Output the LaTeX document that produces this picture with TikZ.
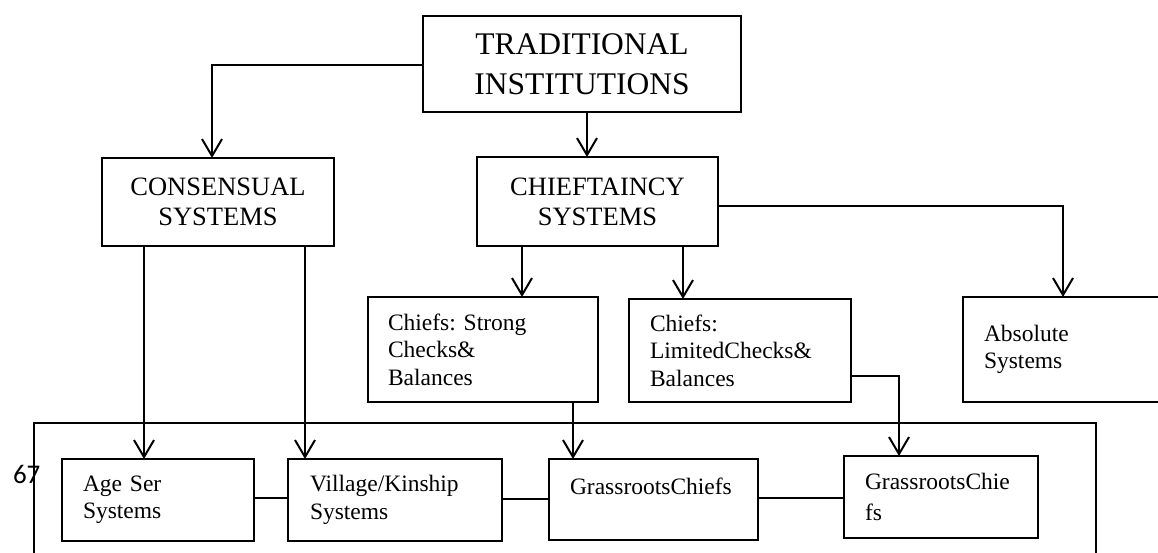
\documentclass[tikz,border=0pt]{standalone}
\usepackage{fontspec}
\setmainfont{Liberation Serif}
\newfontfamily\numfont{Carlito}
\usetikzlibrary{arrows.meta}
\frenchspacing
\begin{document}
\begin{tikzpicture}[x=1pt,y=-1pt,line width=2pt,
  box/.style={draw,rectangle,inner sep=0pt,outer sep=0pt,line width=2pt},
  capA/.style={box,align=center,font=\fontsize{31.5}{40}\selectfont},
  capB/.style={box,align=center,font=\fontsize{26.5}{30}\selectfont},
  lbox/.style={box,align=left,inner ysep=0pt,font=\fontsize{23.5}{27.5}\selectfont},
  arr/.style={-{Straight Barb[length=17pt,width=20pt]}},
  frame/.style={line width=1.5pt}]
\clip (0,0) rectangle (1158,553);
\useasboundingbox (0,0) rectangle (1158,553);

\node[capA,minimum width=318pt,minimum height=96pt,anchor=north west] (ti) at (423,16) {TRADITIONAL\\INSTITUTIONS};
\node[capB,minimum width=232pt,minimum height=88pt,anchor=north west] (cons) at (102,158) {CONSENSUAL\\SYSTEMS};
\node[capB,minimum width=241pt,minimum height=89pt,anchor=north west] (chief) at (477,157) {CHIEFTAINCY\\SYSTEMS};

\node[lbox,text width=190pt,inner xsep=20pt,minimum height=105pt,anchor=north west] (strong) at (368,297) {Chiefs: Strong\\Checks\&\\Balances};
\node[lbox,text width=180pt,inner xsep=21pt,minimum height=103pt,anchor=north west] (lim) at (629,299) {Chiefs:\\LimitedChecks\&\\Balances};
\node[lbox,text width=235pt,inner xsep=21pt,minimum height=105pt,anchor=north west] (abs) at (963,297) {Absolute\\Systems};

\draw[frame] (34,600) -- (34,423) -- (1096,423) -- (1096,600);
\node[font=\numfont\fontsize{27}{30}\selectfont,anchor=base west,inner sep=0pt] (pg) at (12,483) {67};

\node[lbox,text width=150pt,inner xsep=21pt,minimum height=82pt,anchor=north west] (age) at (62,459) {Age Ser\\Systems};
\node[lbox,text width=170pt,inner xsep=22pt,minimum height=82pt,anchor=north west] (vil) at (288,459) {Village/Kinship\\Systems};
\node[lbox,text width=167pt,inner xsep=21pt,minimum height=81pt,anchor=north west] (gr1) at (549,459) {GrassrootsChiefs\\\mbox{}};
\node[lbox,text width=152pt,inner xsep=21pt,minimum height=82pt,anchor=north west] (gr2) at (844,456) {GrassrootsChie\\[3pt]fs};

\draw[arr] (ti.west |- 0,65) -- (212,65) -- (212,0 |- cons.north);
\draw[arr] (587,0 |- ti.south) -- (587,0 |- chief.north);
\draw[arr] (chief.east |- 0,206) -- (1063,206) -- (1063,0 |- abs.north);
\draw[arr] (522,0 |- chief.south) -- (522,0 |- strong.north);
\draw[arr] (683,0 |- chief.south) -- (683,0 |- lim.north);
\draw[arr] (144,0 |- cons.south) -- (144,0 |- age.north);
\draw[arr] (305,0 |- cons.south) -- (305,0 |- vil.north);
\draw[arr] (573,0 |- strong.south) -- (573,0 |- gr1.north);
\draw[arr] (lim.east |- 0,376) -- (899,376) -- (899,0 |- gr2.north);
\draw (age.east |- 0,498) -- (vil.west |- 0,498);
\draw (vil.east |- 0,499) -- (gr1.west |- 0,499);
\draw (gr1.east |- 0,498) -- (gr2.west |- 0,498);
\end{tikzpicture}
\end{document}
